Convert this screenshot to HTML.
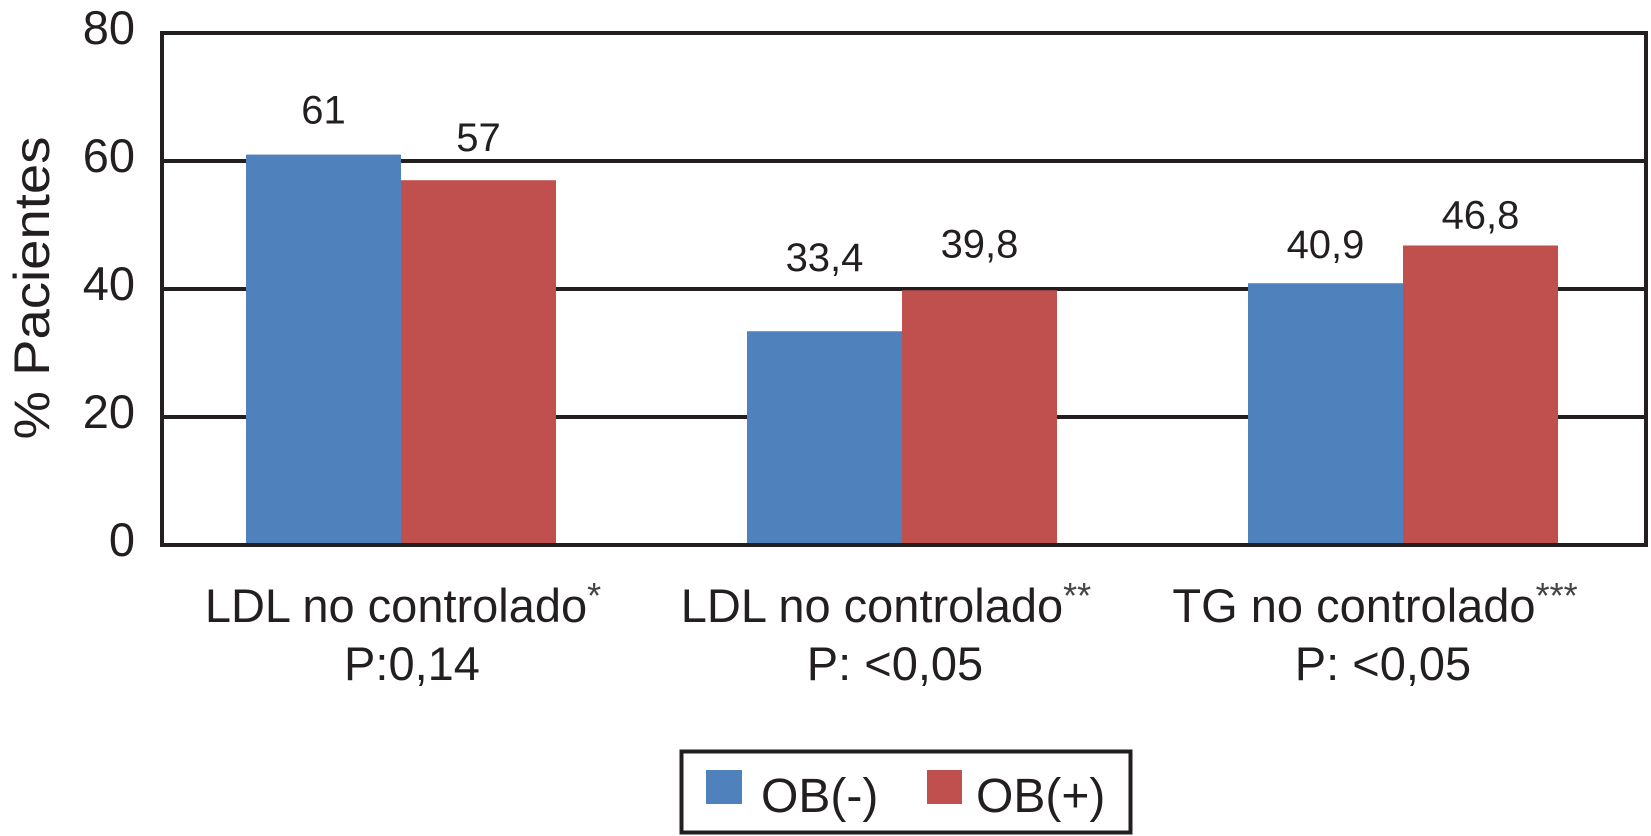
<!DOCTYPE html>
<html><head><meta charset="utf-8"><style>
html,body{margin:0;padding:0;background:#fff;}
svg{display:block;font-family:"Liberation Sans",Arial,sans-serif;}
</style></head><body>
<svg id="chart" width="1651" height="836" viewBox="0 0 1651 836" xmlns="http://www.w3.org/2000/svg">
<g id="grid"></g>
<g id="bars"></g>
<g id="frame"></g>
<g id="yticks"></g>
<g id="vlabels"></g>
<g id="xlabels"></g>
<text transform="translate(49,288) rotate(-90)" text-anchor="middle" font-size="50" textLength="303" lengthAdjust="spacingAndGlyphs" fill="#231f20">% Pacientes</text>
<g>
  <rect x="681.5" y="751.5" width="449" height="81" fill="#fff" stroke="#231f20" stroke-width="4"/>
  <rect x="706" y="770" width="36" height="34" fill="#4F81BD"/>
  <text x="761" y="812" font-size="48" fill="#231f20">OB(-)</text>
  <rect x="927" y="770" width="35" height="34" fill="#C0504D"/>
  <text x="976" y="812" font-size="48" fill="#231f20">OB(+)</text>
</g>
</svg>
<script>
const categories = ["LDL no controlado", "LDL no controlado", "TG no controlado"];
const categoryMarks = ["*", "**", "***"];
const pValues = ["P:0,14", "P: <0,05", "P: <0,05"];
const obNeg = [61, 33.4, 40.9];
const obPos = [57, 39.8, 46.8];
const obNegLabels = ["61", "33,4", "40,9"];
const obPosLabels = ["57", "39,8", "46,8"];
const yTicks = [0, 20, 40, 60, 80];

const NS = "http://www.w3.org/2000/svg";
const plot = {left:162, right:1646, top:33, bottom:545};
const yMax = 80;
const y = v => plot.bottom - (v / yMax) * (plot.bottom - plot.top);
const step = 501, firstCenter = 401, barW = 155;
const xc = i => firstCenter + i * step;
const labelShift = [2, -16, -28];
const negGap = [31, 60, 25];
const posGap = [29, 33, 17];

function mk(tag, attrs, parent) {
  const e = document.createElementNS(NS, tag);
  for (const k in attrs) e.setAttribute(k, attrs[k]);
  parent.appendChild(e);
  return e;
}
const grid = document.getElementById('grid');
const bars = document.getElementById('bars');
const frame = document.getElementById('frame');
const yt = document.getElementById('yticks');
const vl = document.getElementById('vlabels');
const xl = document.getElementById('xlabels');

yTicks.forEach(t => {
  if (t > 0 && t < yMax) {
    const l = mk('line', {x1:plot.left, x2:plot.right, y1:y(t), y2:y(t), stroke:'#231f20', 'stroke-width':4}, grid);
    
    
  }
  const tx = mk('text', {x:135, y:y(t) + 11, 'text-anchor':'end', 'font-size':47, fill:'#231f20'}, yt);
  tx.textContent = String(t);
  
  
});

categories.forEach((c, i) => {
  const cx = xc(i);
  const b1 = mk('rect', {x:cx - barW, y:y(obNeg[i]), width:barW, height:y(0) - y(obNeg[i]), fill:'#4F81BD'}, bars);
  
  
  const b2 = mk('rect', {x:cx, y:y(obPos[i]), width:barW, height:y(0) - y(obPos[i]), fill:'#C0504D'}, bars);
  
  

  const t1 = mk('text', {x:cx - barW / 2, y:y(obNeg[i]) - negGap[i], 'text-anchor':'middle', 'font-size':40, fill:'#231f20'}, vl);
  t1.textContent = obNegLabels[i];
  
  
  const t2 = mk('text', {x:cx + barW / 2, y:y(obPos[i]) - posGap[i], 'text-anchor':'middle', 'font-size':40, fill:'#231f20'}, vl);
  t2.textContent = obPosLabels[i];
  
  

  const lx = cx + labelShift[i];
  const l1 = mk('text', {x:lx, y:622, 'text-anchor':'middle', 'font-size':47, fill:'#231f20'}, xl);
  l1.textContent = c;
  const sup = mk('tspan', {'font-size':36, dy:-14, fill:'#444'}, l1);
  sup.textContent = categoryMarks[i];
  
  
  const l2 = mk('text', {x:cx + [11, -7, -20][i], y:680, 'text-anchor':'middle', 'font-size':47, fill:'#231f20'}, xl);
  l2.textContent = pValues[i];
  
  
});

const fr = mk('rect', {x:plot.left, y:plot.top, width:plot.right - plot.left, height:plot.bottom - plot.top, fill:'none', stroke:'#231f20', 'stroke-width':4}, frame);


</script>
</body></html>
